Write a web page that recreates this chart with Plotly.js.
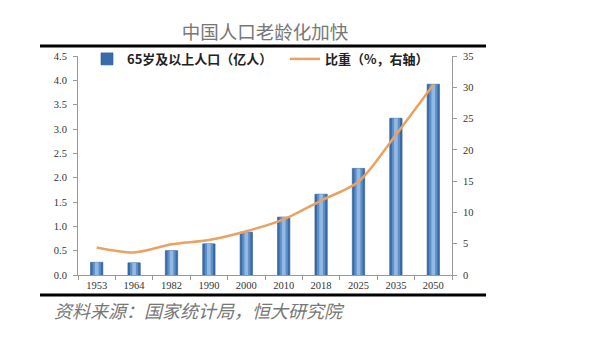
<!DOCTYPE html>
<html>
<head>
<meta charset="utf-8">
<script src="https://cdn.plot.ly/plotly-3.0.1.min.js"></script>
<style>html,body{margin:0;padding:0;background:#fff;}</style>
</head>
<body>
<div id="chart" style="width:600px;height:338px;"></div>
<script>
const years = ['1953','1964','1982','1990','2000','2010','2018','2025','2035','2050'];
const pop65 = [0.26, 0.25, 0.50, 0.64, 0.88, 1.19, 1.66, 2.19, 3.22, 3.92];
const share = [4.4, 3.6, 4.9, 5.6, 7.0, 8.9, 11.9, 14.9, 22.4, 30.4];
const barName = '65岁及以上人口（亿人）';
const lineName = '比重（%，右轴）';
const titleText = '中国人口老龄化加快';
const sourceText = '资料来源：国家统计局，恒大研究院';
const leftTicks = [0,0.5,1,1.5,2,2.5,3,3.5,4,4.5];
const rightTicks = [0,5,10,15,20,25,30,35];

const cjk = '"Noto Sans CJK SC", sans-serif';
const serif = '"Liberation Serif", "DejaVu Serif", serif';

const traces = [
  {type:'bar', x:years, y:pop65, name:barName, width:0.33, legend:'legend',
   marker:{color:'#3A6BAA', line:{color:'#2C5891', width:0.6}}, yaxis:'y'},
  {type:'bar', x:years, y:pop65, showlegend:false, hoverinfo:'skip', width:0.22,
   marker:{color:'#5E8FC6'}, yaxis:'y'},
  {type:'bar', x:years, y:pop65, showlegend:false, hoverinfo:'skip', width:0.1,
   marker:{color:'#93B8E2'}, yaxis:'y'},
  {type:'scatter', mode:'lines', x:years, y:share, name:lineName, yaxis:'y2', legend:'legend2',
   line:{color:'#E9A262', width:2.5, shape:'spline', smoothing:0.8}}
];

const legFont = {family:cjk, size:13, color:'#222', weight:'bold'};
const layout = {
  width:600, height:338,
  margin:{l:78, r:148, t:56, b:63},
  paper_bgcolor:'#fff', plot_bgcolor:'#fff',
  barmode:'overlay',
  showlegend:true,
  title:{text:titleText, x:0.5, xref:'paper', xanchor:'center', y:1-33/338, yref:'container', yanchor:'middle',
         font:{family:cjk, size:18.5, color:'#777'}},
  legend:{orientation:'h', x:(87-78)/374, y:1.055, xanchor:'left', yanchor:'top',
          itemwidth:30, bgcolor:'rgba(0,0,0,0)', font:legFont},
  legend2:{orientation:'h', x:(285-78)/374, y:1.055, xanchor:'left', yanchor:'top',
          itemwidth:30, bgcolor:'rgba(0,0,0,0)', font:legFont},
  xaxis:{type:'category', showline:true, linecolor:'#999', linewidth:1, ticks:'outside', tickson:'boundaries',
         ticklen:4, tickcolor:'#999', tickfont:{family:serif, size:10.5, color:'#333'}, showgrid:false, zeroline:false, fixedrange:true},
  yaxis:{range:[0,4.5], tickvals:leftTicks, tickformat:'.1f', showline:true, linecolor:'#999', linewidth:1,
         ticks:'outside', ticklen:4, tickcolor:'#999', showgrid:false, zeroline:false,
         tickfont:{family:serif, size:10.5, color:'#333'}, ticklabelstandoff:4},
  yaxis2:{range:[0,35], tickvals:rightTicks, overlaying:'y', side:'right', showline:true, linecolor:'#999', linewidth:1,
          ticks:'outside', ticklen:4, tickcolor:'#999', showgrid:false, zeroline:false,
          tickfont:{family:serif, size:10.5, color:'#333'}, ticklabelstandoff:4},
  shapes:[
    {type:'line', xref:'paper', yref:'paper', x0:-0.1016, x1:1.091, y0:1.0457, y1:1.0457, line:{color:'#000', width:3}},
    {type:'line', xref:'paper', yref:'paper', x0:-0.1016, x1:1.091, y0:-0.0913, y1:-0.0913, line:{color:'#000', width:3}}
  ],
  annotations:[
    {text:sourceText, xref:'paper', yref:'paper', x:-0.0695, y:-0.16, xanchor:'left', yanchor:'middle', showarrow:false,
     font:{family:cjk, size:18, color:'#777', style:'italic'}}
  ]
};

Plotly.newPlot('chart', traces, layout, {displayModeBar:false, staticPlot:true});
</script>
</body>
</html>
